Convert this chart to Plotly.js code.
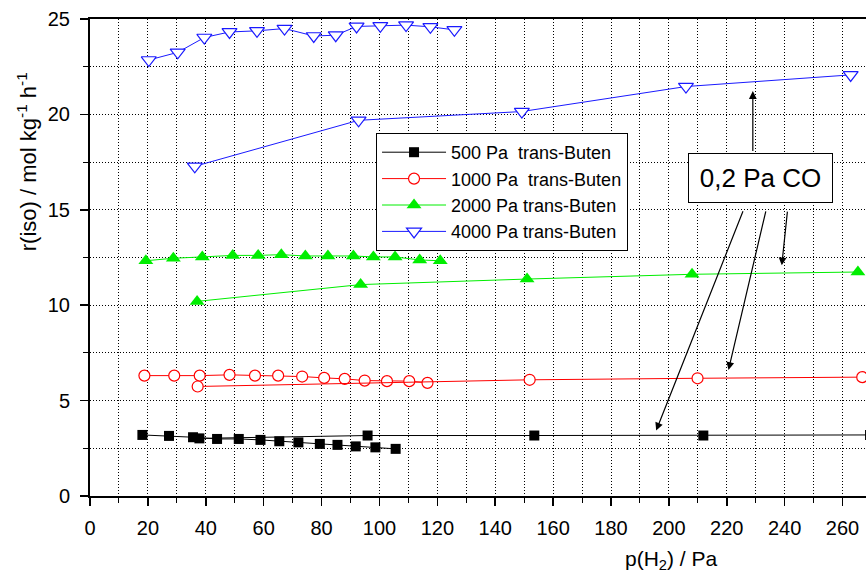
<!DOCTYPE html>
<html>
<head>
<meta charset="utf-8">
<script src="https://cdn.plot.ly/plotly-3.0.1.min.js"></script>
<style>
html,body{margin:0;padding:0;background:#fff;}
#chart{width:866px;height:583px;}
</style>
</head>
<body>
<div id="chart"></div>
<script>
// ---- data ----
// without CO
const x500 = [18.1, 27.3, 35.6, 43.9, 51.4, 58.9, 65.4, 72.0, 79.4, 85.5, 91.8, 98.6, 105.6];
const y500 = [3.20, 3.15, 3.08, 2.99, 2.99, 2.94, 2.87, 2.81, 2.73, 2.68, 2.60, 2.55, 2.47];
const x1000 = [18.8, 29.1, 37.9, 48.2, 57.0, 65.0, 73.3, 80.9, 88.0, 94.9, 102.6, 110.3, 116.6];
const y1000 = [6.31, 6.31, 6.31, 6.35, 6.31, 6.31, 6.26, 6.19, 6.14, 6.05, 6.02, 6.02, 5.93];
const x2000 = [19.3, 28.8, 38.8, 49.3, 58.1, 66.1, 74.4, 82.2, 91.0, 97.9, 105.4, 113.9, 121.0];
const y2000 = [12.33, 12.46, 12.53, 12.61, 12.61, 12.65, 12.58, 12.58, 12.58, 12.53, 12.53, 12.37, 12.33];
const x4000 = [20.3, 30.3, 39.5, 48.2, 57.7, 67.2, 77.3, 84.9, 92.1, 100.3, 109.2, 117.6, 125.9];
const y4000 = [22.85, 23.25, 24.03, 24.32, 24.38, 24.50, 24.11, 24.15, 24.61, 24.64, 24.68, 24.59, 24.43];
// with 0,2 Pa CO
const x500co = [37.8, 95.9, 153.5, 211.9, 269.5];
const y500co = [3.02, 3.17, 3.17, 3.17, 3.20];
const x1000co = [37.2, 151.9, 209.9, 266.8];
const y1000co = [5.74, 6.09, 6.17, 6.23];
const x2000co = [37.0, 93.5, 151.0, 208.0, 265.3];
const y2000co = [10.20, 11.08, 11.37, 11.62, 11.74];
const x4000co = [36.2, 92.8, 149.2, 205.9, 262.8];
const y4000co = [17.28, 19.69, 20.15, 21.46, 22.07];

const seriesNames = ["500 Pa\u00a0 trans-Buten", "1000 Pa\u00a0 trans-Buten", "2000 Pa trans-Buten", "4000 Pa trans-Buten"];
const xTickVals = [0,20,40,60,80,100,120,140,160,180,200,220,240,260];
const yTickVals = [0,5,10,15,20,25];
const xTitle = "p(H<sub>2</sub>) / Pa";
const yTitle = "r(iso) / mol kg<sup>-1</sup> h<sup>-1</sup>";
const coLabel = "0,2 Pa CO";
// arrows: [tailX, tailY, tipX, tipY] in data units
const arrowTails = [[229.0, 18.0], [225.8, 15.0], [233.6, 15.0], [241.0, 14.98]];
const arrowTips  = [[229.0, 21.22], [195.6, 3.43], [220.6, 6.61], [239.0, 12.09]];

const FONT = "Arial, 'Liberation Sans', sans-serif";
const cBlack = "#000000", cRed = "#ff0000", cGreen = "#00ee00", cBlue = "#1a1aff";

function tr(x, y, name, color, sym, size, fill, show) {
  return {
    type: "scatter", mode: "lines+markers", x: x, y: y, name: name,
    legendgroup: name, showlegend: show,
    line: {color: color, width: 1},
    marker: {symbol: sym, size: size, color: fill, line: {color: color, width: fill === "#ffffff" ? 1.2 : 0}}
  };
}

const data = [
  tr(x500, y500, seriesNames[0], cBlack, "square", 10, cBlack, true),
  tr(x1000, y1000, seriesNames[1], cRed, "circle", 11, "#ffffff", true),
  tr(x2000, y2000, seriesNames[2], cGreen, "triangle-up", 13, cGreen, true),
  tr(x4000, y4000, seriesNames[3], cBlue, "triangle-down", 13, "#ffffff", true),
  tr(x500co, y500co, seriesNames[0], cBlack, "square", 10, cBlack, false),
  tr(x1000co, y1000co, seriesNames[1], cRed, "circle", 11, "#ffffff", false),
  tr(x2000co, y2000co, seriesNames[2], cGreen, "triangle-up", 13, cGreen, false),
  tr(x4000co, y4000co, seriesNames[3], cBlue, "triangle-down", 13, "#ffffff", false)
];

const annotations = [
  {xref: "paper", yref: "paper", x: 0.749, y: -0.135, text: xTitle, showarrow: false,
   font: {family: FONT, size: 21, color: "#000"}, xanchor: "center", yanchor: "middle"},
  {xref: "paper", yref: "paper", x: -0.081, y: 0.70, text: yTitle, showarrow: false, textangle: -90,
   font: {family: FONT, size: 22, color: "#000"}, xanchor: "center", yanchor: "middle"},
  {xref: "x", yref: "y", x: 231.7, y: 16.68, text: coLabel, showarrow: false,
   font: {family: FONT, size: 26, color: "#000"}, bgcolor: "#ffffff",
   bordercolor: "#000", borderwidth: 1, borderpad: 1, width: 141, height: 46}
];
for (let i = 0; i < arrowTails.length; i++) {
  annotations.push({
    xref: "x", yref: "y", axref: "x", ayref: "y",
    x: arrowTips[i][0], y: arrowTips[i][1], ax: arrowTails[i][0], ay: arrowTails[i][1],
    text: "", showarrow: true, arrowhead: 2, arrowsize: 1.3, arrowwidth: 1.2,
    arrowcolor: "#000", standoff: 0, startstandoff: 0
  });
}

const layout = {
  width: 866, height: 583,
  margin: {l: 90, r: 0, t: 19, b: 87, pad: 0},
  paper_bgcolor: "#ffffff", plot_bgcolor: "#ffffff",
  font: {family: FONT, color: "#000"},
  showlegend: true,
  legend: {x: 0.3686, y: 0.761, xanchor: "left", yanchor: "top",
    bgcolor: "#ffffff", bordercolor: "#000", borderwidth: 1, itemwidth: 64,
    font: {family: FONT, size: 18, color: "#000"}, tracegroupgap: 0},
  xaxis: {range: [0, 268.1], tickvals: xTickVals, ticktext: xTickVals.map(String),
    showline: true, linecolor: "#000", linewidth: 2, mirror: true,
    ticks: "outside", ticklen: 8, tickwidth: 1.5, tickcolor: "#000",
    tickfont: {family: FONT, size: 20, color: "#000"}, ticklabelstandoff: 5,
    showgrid: true, gridcolor: "#000", gridwidth: 1, griddash: "1px,2px",
    zeroline: false,
    minor: {dtick: 10, tick0: 0, ticks: "outside", ticklen: 5, tickwidth: 1, tickcolor: "#000",
      showgrid: true, gridcolor: "#000", gridwidth: 1, griddash: "1px,2px"}},
  yaxis: {range: [0, 25], tickvals: yTickVals, ticktext: yTickVals.map(String),
    showline: true, linecolor: "#000", linewidth: 2, mirror: false,
    ticks: "outside", ticklen: 8, tickwidth: 1.5, tickcolor: "#000",
    tickfont: {family: FONT, size: 20, color: "#000"}, ticklabelstandoff: 6,
    showgrid: true, gridcolor: "#000", gridwidth: 1, griddash: "1px,2px",
    zeroline: false,
    minor: {dtick: 2.5, tick0: 0, ticks: "outside", ticklen: 5, tickwidth: 1, tickcolor: "#000",
      showgrid: true, gridcolor: "#000", gridwidth: 1, griddash: "1px,2px"}},
  annotations: annotations
};

Plotly.newPlot("chart", data, layout, {staticPlot: true, displayModeBar: false});
</script>
</body>
</html>
